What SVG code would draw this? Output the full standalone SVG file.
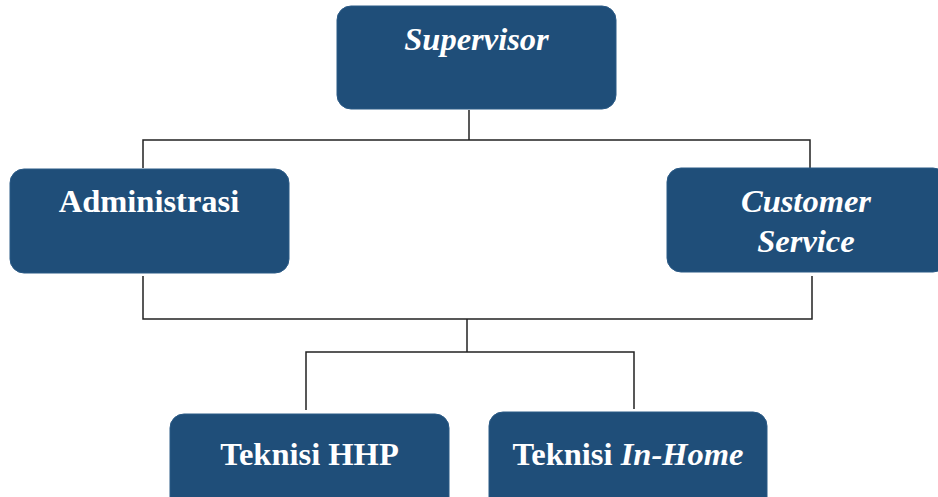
<svg xmlns="http://www.w3.org/2000/svg" width="938" height="497" viewBox="0 0 938 497">
<style>
.box{fill:#1F4E79;stroke:#2a5a86;stroke-width:1}
.t{font-family:"Liberation Serif","Times New Roman",serif;font-weight:bold;font-size:32.5px;fill:#ffffff;text-anchor:middle}
.i{font-style:italic}
.c{fill:none;stroke:#222;stroke-width:1.5}
</style>
<rect width="938" height="497" fill="#ffffff"/>
<g id="connectors">
<polyline class="c" points="469,110 469,140"/>
<polyline class="c" points="143,168 143,140 810,140 810,168"/>
<polyline class="c" points="143,276 143,319 812,319 812,276"/>
<polyline class="c" points="467,319 467,352"/>
<polyline class="c" points="306,410 306,352 634,352 634,409"/>
</g>
<g id="supervisor">
<rect class="box" x="337" y="6" width="279" height="103" rx="14"/>
<text class="t i" x="476.5" y="50">Supervisor</text>
</g>
<g id="administrasi">
<rect class="box" x="10" y="169" width="279" height="104" rx="14"/>
<text class="t" x="149" y="212">Administrasi</text>
</g>
<g id="customer-service">
<rect class="box" x="667" y="168" width="280" height="104" rx="14"/>
<text class="t i" x="806" y="212">Customer</text>
<text class="t i" x="806" y="252">Service</text>
</g>
<g id="teknisi-hhp">
<rect class="box" x="170" y="414" width="279" height="104" rx="14"/>
<text class="t" x="309.5" y="465">Teknisi HHP</text>
</g>
<g id="teknisi-inhome">
<rect class="box" x="489" y="412" width="278" height="106" rx="14"/>
<text class="t" x="628" y="465">Teknisi <tspan class="i">In-Home</tspan></text>
</g>
</svg>
